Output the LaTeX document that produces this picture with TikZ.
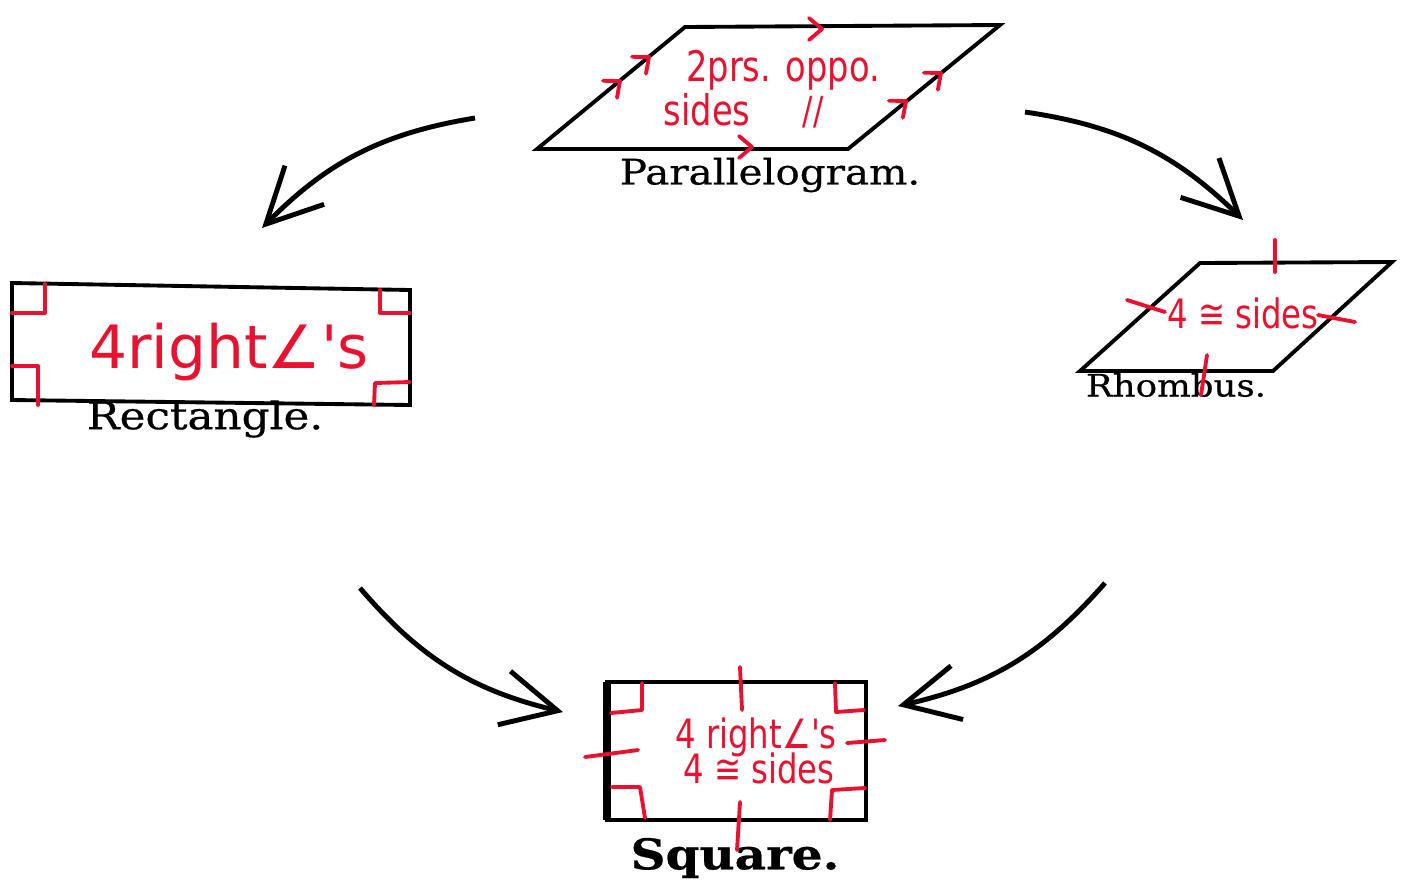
\documentclass[tikz,border=0pt]{standalone}
\usepackage{fontspec}
\newfontfamily\handfont[FakeStretch=0.8]{DejaVu Sans}
\newfontfamily\handfontwide{DejaVu Sans}
\newfontfamily\bookfont[FakeStretch=1.15, FakeBold=0.6]{DejaVu Serif}
\usetikzlibrary{positioning, calc, arrows.meta}
\definecolor{penred}{RGB}{232,18,48}
\tikzset{
  figline/.style={line width=1.1pt, line join=miter},
  penmark/.style={penred, line width=1.1pt, line cap=round, line join=round},
  pentext/.style={penred, inner sep=0pt},
  booklabel/.style={font=\bookfont\fontsize{10}{11}\selectfont, inner sep=0pt},
  flowarrow/.style={line width=1.4pt, -{Straight Barb[length=5.5mm, width=5.5mm, line width=1.4pt]}},
  chev/.pic={\draw[penmark] (-0.13,0.11) -- (0,0) -- (-0.13,-0.11);}
}

\begin{document}
\begin{tikzpicture}
        \useasboundingbox (0,0) rectangle (14.04,-8.80);
        %parallelogram
        \coordinate (pbl) at (5.37,-1.49);
        \coordinate (pbr) at (8.48,-1.49);
        \coordinate (ptr) at (10.00,-0.25);
        \coordinate (ptl) at (6.85,-0.27);
        \draw[figline] (pbl) -- (pbr) -- (ptr) -- (ptl) -- cycle;
        \node[booklabel] (parlabel) at (7.70,-1.75) {Parallelogram.};
        %parallel marks
        \pic at (8.22,-0.29) {chev};
        \pic at (7.52,-1.47) {chev};
        \pic[rotate=39.5] at (6.20,-0.81) {chev};
        \pic[rotate=39.5] at (6.49,-0.57) {chev};
        \pic[rotate=39.2] at (9.06,-1.01) {chev};
        \pic[rotate=39.2] at (9.41,-0.73) {chev};
        \node[pentext, font=\handfont\fontsize{12}{13}\selectfont] (partxta) at (7.83,-0.70) {2prs. oppo.};
        \node[pentext, font=\handfont\fontsize{12}{13}\selectfont] (partxtb) at (7.07,-1.10) {sides};
        \node[pentext, font=\handfont\fontsize{11}{12}\selectfont] (partxtc) at (8.13,-1.12) {//};

        %rectangle
        \coordinate (rtl) at (0.12,-2.83);
        \coordinate (rtr) at (4.10,-2.90);
        \coordinate (rbr) at (4.10,-4.05);
        \coordinate (rbl) at (0.12,-4.00);
        \draw[figline] (rtl) -- (rtr) -- (rbr) -- (rbl) -- cycle;
        \node[booklabel, font=\bookfont\fontsize{10.8}{12}\selectfont] (rectlabel) at (2.05,-4.19) {Rectangle.};
        %right angle marks
        \draw[penmark] (0.12,-3.13) -- (0.45,-3.13) -- (0.45,-2.84);
        \draw[penmark] (3.80,-2.90) -- (3.80,-3.13) -- (4.10,-3.13);
        \draw[penmark] (0.12,-3.66) -- (0.38,-3.66) -- (0.38,-4.05);
        \draw[penmark] (3.74,-4.05) -- (3.75,-3.83) -- (4.10,-3.82);
        \node[pentext, font=\handfontwide\fontsize{17}{18}\selectfont] (recttxt) at (2.29,-3.52) {4right∠'s};

        %rhombus
        \coordinate (hbl) at (10.80,-3.71);
        \coordinate (hbr) at (12.73,-3.71);
        \coordinate (htr) at (13.92,-2.62);
        \coordinate (htl) at (12.00,-2.63);
        \draw[figline] (hbl) -- (hbr) -- (htr) -- (htl) -- cycle;
        \node[booklabel, font=\bookfont\fontsize{8.8}{10}\selectfont] (rhlabel) at (11.76,-3.85) {Rhombus.};
        %equal side ticks
        \draw[penmark] (12.75,-2.40) -- (12.75,-2.72);
        \draw[penmark] (12.07,-3.55) -- (12.01,-3.95);
        \draw[penmark] (11.27,-3.00) -- (11.65,-3.12);
        \draw[penmark] (13.18,-3.15) -- (13.55,-3.22);
        \node[pentext, font=\handfont\fontsize{11.5}{13}\selectfont] (rhtxt) at (12.43,-3.13) {4 ≅ sides};

        %square
        \coordinate (stl) at (6.07,-6.82);
        \coordinate (str) at (8.66,-6.82);
        \coordinate (sbr) at (8.66,-8.20);
        \coordinate (sbl) at (6.07,-8.20);
        \draw[figline] (stl) -- (str) -- (sbr) -- (sbl) -- cycle;
        \draw[line width=2.4pt] (stl) -- (sbl);
        \node[booklabel, font=\bookfont\bfseries\fontsize{12}{14}\selectfont] (sqlabel) at (7.35,-8.58) {Square.};
        %right angle marks and ticks
        \draw[penmark] (6.42,-6.83) -- (6.42,-7.10) -- (6.11,-7.13);
        \draw[penmark] (8.35,-6.83) -- (8.36,-7.12) -- (8.64,-7.10);
        \draw[penmark] (6.12,-7.87) -- (6.40,-7.87) -- (6.45,-8.18);
        \draw[penmark] (8.30,-8.20) -- (8.32,-7.90) -- (8.65,-7.88);
        \draw[penmark] (7.40,-6.67) -- (7.42,-7.10);
        \draw[penmark] (7.40,-8.02) -- (7.37,-8.50);
        \draw[penmark] (5.85,-7.57) -- (6.38,-7.50);
        \draw[penmark] (8.47,-7.43) -- (8.85,-7.40);
        \node[pentext, font=\handfont\fontsize{11.5}{13}\selectfont] (sqtxta) at (7.56,-7.37) {4 right∠'s};
        \node[pentext, font=\handfont\fontsize{11.5}{13}\selectfont] (sqtxtb) at (7.59,-7.68) {4 ≅ sides};

        %arrows
        \coordinate (aps) at (4.75,-1.18);
        \coordinate (ape) at (2.62,-2.28);
        \coordinate (ahs) at (10.25,-1.12);
        \coordinate (ahe) at (12.43,-2.20);
        \coordinate (ars) at (3.60,-5.88);
        \coordinate (are) at (5.63,-7.12);
        \coordinate (ass) at (11.05,-5.83);
        \coordinate (ase) at (8.98,-7.06);
        \draw[flowarrow] (aps) to[bend right=18] (ape);
        \draw[flowarrow] (ahs) to[bend left=18] (ahe);
        \draw[flowarrow] (ars) to[bend right=18] (are);
        \draw[flowarrow] (ass) to[bend left=18] (ase);
\end{tikzpicture}
\end{document}
